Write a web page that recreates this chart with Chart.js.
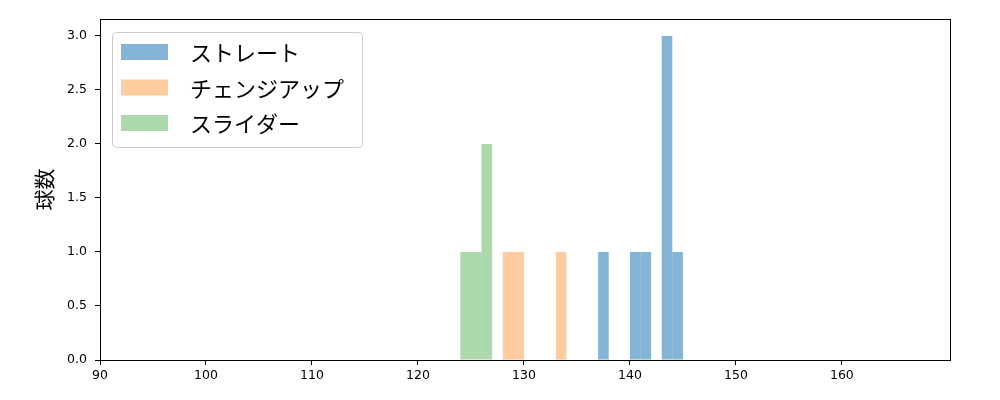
<!DOCTYPE html>
<html>
<head>
<meta charset="utf-8">
<script src="https://cdn.jsdelivr.net/npm/chart.js@4"></script>
<style>
  body { margin: 0; background: #fff; }
  #wrap { width: 1000px; height: 400px; }
</style>
</head>
<body>
<div id="wrap"><canvas id="pitchChart" width="1000" height="400"></canvas></div>
<script>
// Bin start speeds (km/h), bin width 1
const straightBins = [137, 140, 141, 143, 144]
const straightCounts = [1, 1, 1, 3, 1]
const changeupBins = [128, 129, 133]
const changeupCounts = [1, 1, 1]
const sliderBins = [124, 125, 126]
const sliderCounts = [1, 1, 2]

const seriesLabels = ["ストレート", "チェンジアップ", "スライダー"]
const xTicks = [90, 100, 110, 120, 130, 140, 150, 160]
const yTicks = [0, 0.5, 1, 1.5, 2, 2.5, 3]

const toPoints = (bins, counts) => bins.map((b, i) => ({ x: b + 0.5, y: counts[i] }))

const FONT = "'DejaVu Sans', sans-serif"
const JP_FONT = "'Noto Sans CJK JP', sans-serif"

// frame around the plot + legend box in upper left
const framePlugin = {
  id: "frame",
  afterDraw(chart) {
    const { ctx, chartArea: a } = chart
    ctx.save()
    ctx.strokeStyle = "#000"
    ctx.lineWidth = 1
    ctx.strokeRect(a.left + 0.5, a.top + 0.5, a.right - a.left, a.bottom - a.top)

    // legend
    const lx = a.left + 12, ly = a.top + 13, lw = 250, lh = 115
    ctx.fillStyle = "rgba(255,255,255,0.8)"
    ctx.strokeStyle = "#ccc"
    ctx.beginPath()
    ctx.roundRect(lx + 0.5, ly + 0.5, lw, lh, 4)
    ctx.fill()
    ctx.stroke()
    ctx.font = "22px " + JP_FONT
    ctx.textBaseline = "middle"
    chart.data.datasets.forEach((ds, i) => {
      const cy = ly + 20 + i * 35.5
      ctx.fillStyle = ds.backgroundColor
      ctx.fillRect(lx + 9, cy - 8, 47, 16)
      ctx.fillStyle = "#000"
      ctx.fillText(ds.label, lx + 78, cy + 1)
    })
    ctx.restore()
  },
}

new Chart(document.getElementById("pitchChart"), {
  type: "bar",
  data: {
    datasets: [
      {
        label: seriesLabels[0],
        data: toPoints(straightBins, straightCounts),
        backgroundColor: "rgba(31,119,180,0.55)",
      },
      {
        label: seriesLabels[1],
        data: toPoints(changeupBins, changeupCounts),
        backgroundColor: "rgba(255,127,14,0.4)",
      },
      {
        label: seriesLabels[2],
        data: toPoints(sliderBins, sliderCounts),
        backgroundColor: "rgba(44,160,44,0.4)",
      },
    ],
  },
  options: {
    responsive: false,
    animation: false,
    grouped: false,
    barPercentage: 1,
    categoryPercentage: 1,
    inflateAmount: 0,
    borderWidth: 0,
    layout: { padding: { left: 0, right: 50, top: 19, bottom: 0 } },
    plugins: {
      legend: { display: false },
      tooltip: { enabled: false },
    },
    scales: {
      x: {
        type: "linear",
        offset: false,
        min: 90,
        max: 170.2,
        afterBuildTicks: (scale) => { scale.ticks = xTicks.map((v) => ({ value: v })) },
        afterFit: (scale) => { scale.height = 40 },
        grid: { display: true, offset: false, drawOnChartArea: false, drawTicks: true, tickLength: 5, color: "#000" },
        border: { display: false },
        ticks: { color: "#000", font: { family: FONT, size: 12.5 }, padding: 3, maxRotation: 0 },
      },
      y: {
        min: 0,
        max: 3.157,
        afterBuildTicks: (scale) => { scale.ticks = yTicks.map((v) => ({ value: v })) },
        afterFit: (scale) => { scale.width = 100 },
        grid: { display: true, drawOnChartArea: false, drawTicks: true, tickLength: 5, color: "#000" },
        border: { display: false },
        ticks: {
          color: "#000",
          font: { family: FONT, size: 12.5 },
          padding: 8,
          callback: (v) => v.toFixed(1),
        },
        title: {
          display: true,
          text: "球数",
          color: "#000",
          font: { family: JP_FONT, size: 21 },
          padding: { top: 31, bottom: 0 },
        },
      },
    },
  },
  plugins: [framePlugin],
})
</script>
</body>
</html>
